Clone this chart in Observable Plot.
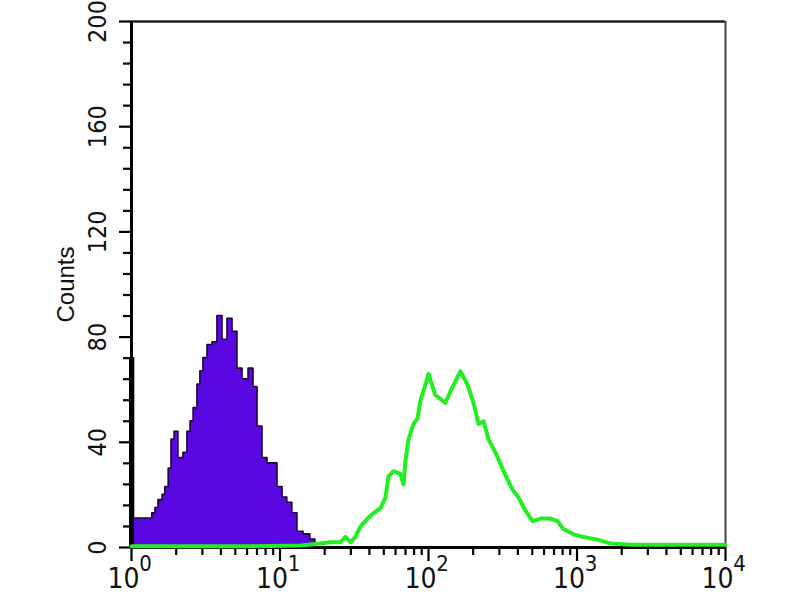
<!DOCTYPE html>
<html>
<head>
<meta charset="utf-8">
<script src="https://cdn.jsdelivr.net/npm/d3@7"></script>
<script src="https://cdn.jsdelivr.net/npm/@observablehq/plot@0.6"></script>
<style>
  html, body { margin: 0; padding: 0; background: #fff; }
  #chart { width: 800px; height: 600px; }
</style>
</head>
<body>
<div id="chart"></div>
<script>
// Purple (control) histogram: bin start (fluorescence) and counts
const purpleX = [1.00, 1.04, 1.38, 1.45, 1.52, 1.62, 1.69, 1.78, 1.86, 1.95, 2.07, 2.24, 2.38, 2.50, 2.62, 2.78, 2.91, 3.05, 3.25, 3.51, 3.79, 4.10, 4.43, 4.79, 5.17, 5.59, 6.14, 6.63, 7.06, 7.62, 8.24, 9.04, 9.62, 10.4, 11.2, 12.1, 13.1, 14.4, 16.0, 17.3];
const purpleY = [72, 11, 13, 15, 18, 20, 23, 30, 41, 44, 34, 36, 44, 48, 53, 62, 67, 72, 77, 78, 88, 79, 87, 82, 68, 64, 68, 61, 46, 34, 32, 32, 23, 19, 17, 13, 6, 5, 3, 0];

// Green (stained) histogram outline
const greenX = [1, 2.91, 6.32, 13.7, 18.7, 21.9, 25.5, 27.6, 29.8, 32.2, 34.8, 38.8, 42.6, 47.5, 51.3, 53.8, 58.1, 64.7, 67.9, 70.0, 73.3, 79.3, 84.3, 88.3, 95.5, 100, 111, 130, 145, 164, 183, 201, 217, 235, 254, 283, 315, 346, 368, 404, 450, 502, 568, 663, 739, 811, 947, 1106, 1374, 1682, 2293, 10000];
const greenY = [0.5, 0.5, 0.5, 0.8, 1.5, 2, 2, 4, 2, 4, 8, 11, 13, 15, 19, 27, 29, 28, 24, 33, 41, 47, 49, 56, 62, 66, 58, 55, 61, 67, 62, 55, 47, 48, 41, 36, 30, 25, 22, 19, 14, 10, 11, 11, 10, 7, 5, 4, 3, 1.5, 1, 1];

// Axis ticks and labels
const yMajor = [0, 40, 80, 120, 160, 200];
const yMinor = [8, 16, 24, 32, 48, 56, 64, 72, 88, 96, 104, 112, 128, 136, 144, 152, 168, 176, 184, 192];
const xMajor = [1, 10, 100, 1000, 10000];
const xExponent = ["0", "1", "2", "3", "4"];
const xMinor = [2, 3, 4, 5, 6, 7, 8, 9, 20, 30, 40, 50, 60, 70, 80, 90, 200, 300, 400, 500, 600, 700, 800, 900, 2000, 3000, 4000, 5000, 6000, 7000, 8000, 9000];
const yTitle = "Counts";

const purple = purpleX.map((x, i) => ({x, y: purpleY[i]}));
const green = greenX.map((x, i) => ({x, y: greenY[i]}));
const xMajorData = xMajor.map((v, i) => ({v, e: xExponent[i]}));

const FONT = "'DejaVu Sans Condensed', 'Liberation Sans Narrow', 'Liberation Sans', Arial, sans-serif";

const chart = Plot.plot({
  width: 800,
  height: 600,
  marginLeft: 131,
  marginRight: 75,
  marginTop: 21,
  marginBottom: 53,
  style: {background: "#fff", color: "#111"},
  x: {type: "log", domain: [1, 10000], axis: null},
  y: {domain: [0, 200], axis: null},
  marks: [
    // frame
    Plot.ruleY([200], {stroke: "#222", strokeWidth: 2.5}),
    Plot.ruleX([10000], {stroke: "#444", strokeWidth: 2}),
    Plot.ruleX([1], {stroke: "#000", strokeWidth: 3}),
    Plot.ruleY([0], {stroke: "#000", strokeWidth: 3}),
    // y ticks
    Plot.axisY(yMinor, {tickSize: 8, fill: "none", stroke: "#000", strokeWidth: 2.2, label: null}),
    Plot.axisY(yMajor, {tickSize: 12, fill: "none", stroke: "#000", strokeWidth: 2.2, label: null}),
    Plot.text(yMajor, {y: d => d, text: d => String(d), frameAnchor: "left", dx: -34, rotate: -90, textAnchor: "middle", fontSize: 25, fontFamily: FONT, fill: "#111"}),
    // x ticks
    Plot.axisX(xMinor, {tickSize: 8, fill: "none", stroke: "#000", strokeWidth: 2.2, label: null}),
    Plot.axisX(xMajor, {tickSize: 14, fill: "none", stroke: "#000", strokeWidth: 2.2, label: null}),
    Plot.text(xMajorData, {x: "v", text: () => "10", frameAnchor: "bottom", dy: 40, dx: -8, fontSize: 28, fontFamily: FONT, fill: "#111"}),
    Plot.text(xMajorData, {x: "v", text: "e", frameAnchor: "bottom", dy: 23, dx: 14, fontSize: 22, fontFamily: FONT, fill: "#111"}),
    // y title
    Plot.text([yTitle], {text: d => d, frameAnchor: "left", dx: -65, rotate: -90, textAnchor: "middle", fontSize: 24, fontFamily: "'Liberation Sans', Arial, sans-serif", fill: "#111"}),
    // data
    Plot.areaY(purple, {x: "x", y: "y", curve: "step-after", fill: "#5a08e2", stroke: "#1e0040", strokeWidth: 1.6}),
    Plot.ruleX(purple.slice(0, 1), {x: "x", y1: 0, y2: "y", stroke: "#000", strokeWidth: 5}),
    Plot.line(green, {x: "x", y: "y", stroke: "#22ee22", strokeWidth: 4, strokeLinejoin: "round"})
  ]
});

document.getElementById("chart").appendChild(chart);
</script>
</body>
</html>
